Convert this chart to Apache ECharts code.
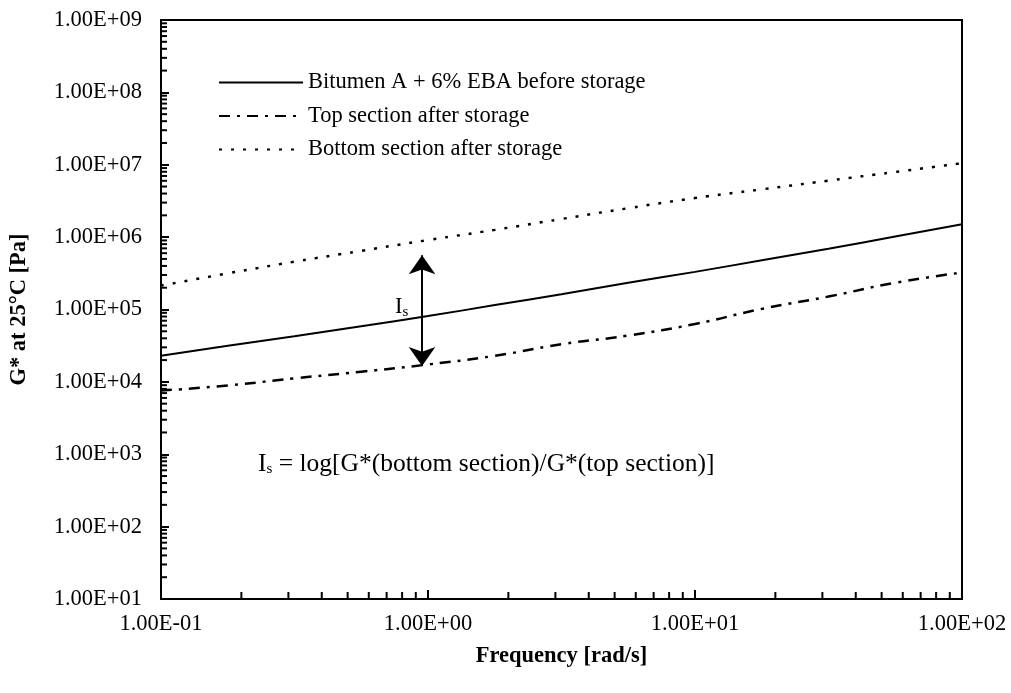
<!DOCTYPE html>
<html>
<head>
<meta charset="utf-8">
<script src="https://cdn.jsdelivr.net/npm/echarts@6/dist/echarts.min.js"></script>
<style>html,body{margin:0;padding:0;background:#fff}#c{width:1011px;height:693px}</style>
</head>
<body>
<div id="c"></div>
<script>
// Frequency [rad/s]
const frequencies = [0.1, 0.178, 0.316, 0.562, 1, 1.78, 3.16, 5.62, 10, 17.8, 31.6, 56.2, 100];
// G* at 25°C [Pa]
const beforeStorage = [22900, 31600, 42700, 58900, 81300, 115000, 162000, 234000, 331000, 479000, 692000, 1020000, 1510000];
const topSection = [7590, 8910, 11200, 13800, 17400, 22900, 33100, 43700, 63100, 102000, 151000, 234000, 324000];
const bottomSection = [214000, 316000, 457000, 646000, 912000, 1260000, 1780000, 2510000, 3470000, 4570000, 6030000, 7940000, 10500000];
const seriesNames = ['Bitumen A + 6% EBA before storage', 'Top section after storage', 'Bottom section after storage'];
// Is arrow (frequency, lower G*, upper G*)
const arrowFreq = 0.95;
const arrowLow = 16600;
const arrowHigh = 560000;

const xMinorTicks = [];
for (let e = -1; e < 2; e++) for (let m = 2; m <= 9; m++) xMinorTicks.push([m * Math.pow(10, e)]);
const yMinorTicks = [];
for (let e = 1; e < 9; e++) for (let m = 2; m <= 9; m++) yMinorTicks.push([m * Math.pow(10, e)]);

function fmtExp(v) {
  const e = Math.round(Math.log10(v));
  const sign = e < 0 ? '-' : '+';
  const a = Math.abs(e);
  return '1.00E' + sign + (a < 10 ? '0' + a : a);
}
const zip = (xs, ys) => xs.map((x, i) => [x, ys[i]]);
const serif = 'Liberation Serif';
const FS = 22.5;

const chart = echarts.init(document.getElementById('c'), null, {renderer: 'canvas'});
chart.setOption({
  animation: false,
  backgroundColor: '#fff',
  grid: {left: 160, right: 49, top: 20, bottom: 94, show: true, borderColor: '#000', borderWidth: 2, backgroundColor: 'transparent'},
  legend: {
    orient: 'vertical', left: 218, top: 71, padding: 0,
    itemWidth: 84, itemHeight: 14, itemGap: 10.5,
    data: seriesNames,
    itemStyle: {opacity: 0},
    textStyle: {fontFamily: serif, fontSize: FS, color: '#000'},
    inactiveColor: '#000'
  },
  xAxis: {
    type: 'log', logBase: 10, min: 0.1, max: 100,
    name: 'Frequency [rad/s]', nameLocation: 'middle', nameGap: 46,
    nameTextStyle: {fontFamily: serif, fontWeight: 'bold', fontSize: FS, color: '#000'},
    axisLine: {lineStyle: {color: '#000', width: 2}},
    axisTick: {inside: true, length: 9, lineStyle: {color: '#000', width: 2}},
    axisLabel: {formatter: fmtExp, fontFamily: serif, fontSize: FS, color: '#000', margin: 14},
    splitLine: {show: false}
  },
  yAxis: {
    type: 'log', logBase: 10, min: 10, max: 1e9, splitNumber: 8,
    name: 'G* at 25°C [Pa]', nameLocation: 'middle', nameGap: 130,
    nameTextStyle: {fontFamily: serif, fontWeight: 'bold', fontSize: FS, color: '#000'},
    axisLine: {lineStyle: {color: '#000', width: 2}},
    axisTick: {inside: true, length: 8, lineStyle: {color: '#000', width: 2}},
    axisLabel: {formatter: fmtExp, fontFamily: serif, fontSize: FS, color: '#000', margin: 19},
    splitLine: {show: false}
  },
  series: [
    {
      name: seriesNames[0], type: 'line', data: zip(frequencies, beforeStorage),
      symbol: 'none', smooth: true, color: '#000',
      lineStyle: {color: '#000', width: 2, type: 'solid'},
      markLine: {
        silent: true, symbol: ['arrow', 'arrow'], symbolSize: [20, 19],
        lineStyle: {color: '#000', width: 2, type: 'solid'},
        label: {show: false},
        data: [[{coord: [arrowFreq, arrowLow]}, {coord: [arrowFreq, arrowHigh]}]]
      }
    },
    {
      name: seriesNames[1], type: 'line', data: zip(frequencies, topSection),
      symbol: 'none', smooth: true, color: '#000',
      lineStyle: {color: '#000', width: 2.5, type: [11, 7, 3, 7]}
    },
    {
      name: seriesNames[2], type: 'line', data: zip(frequencies, bottomSection),
      symbol: 'none', smooth: true, color: '#000',
      lineStyle: {color: '#000', width: 2.5, type: [3, 9]}
    },
    {
      type: 'custom', data: xMinorTicks, silent: true, clip: false,
      encode: {x: 0},
      renderItem: (params, api) => {
        const p = api.coord([api.value(0), 10]);
        return {type: 'line', shape: {x1: p[0], y1: p[1], x2: p[0], y2: p[1] - 7}, style: {stroke: '#000', lineWidth: 2}};
      }
    },
    {
      type: 'custom', data: yMinorTicks, silent: true, clip: false,
      encode: {y: 0},
      renderItem: (params, api) => {
        const p = api.coord([0.1, api.value(0)]);
        return {type: 'line', shape: {x1: p[0], y1: p[1], x2: p[0] + 6, y2: p[1]}, style: {stroke: '#000', lineWidth: 2}};
      }
    }
  ],
  graphic: [
    {
      type: 'text', left: 395, top: 296, silent: true,
      style: {
        text: '{a|I}{b|s}',
        rich: {a: {fontFamily: serif, fontSize: FS, fill: '#000'}, b: {fontFamily: serif, fontSize: 15, fill: '#000', padding: [9, 0, 0, 0]}}
      }
    },
    {
      type: 'text', left: 258, top: 451, silent: true,
      style: {
        text: '{a|I}{b|s}{a| = log[G*(bottom section)/G*(top section)]}',
        rich: {a: {fontFamily: serif, fontSize: 25.5, fill: '#000'}, b: {fontFamily: serif, fontSize: 15, fill: '#000', padding: [10, 0, 0, 0]}}
      }
    }
  ]
});
</script>
</body>
</html>
